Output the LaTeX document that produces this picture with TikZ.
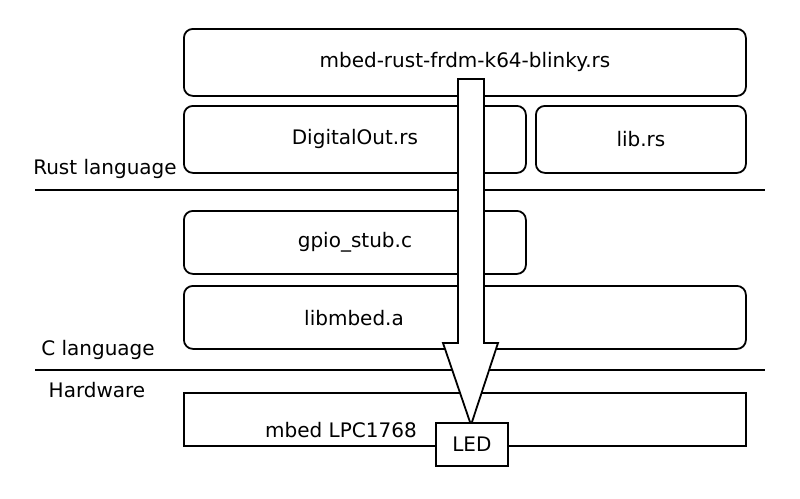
\documentclass[tikz,border=0pt]{standalone}
\usepackage{fontspec}
\setmainfont{DejaVu Sans}
\begin{document}
\begin{tikzpicture}[x=1pt,y=-1pt,
  txt/.style={font=\fontsize{20}{23}\selectfont, inner sep=0pt},
  box/.style={draw, line width=1.8pt, rounded corners=9pt, inner sep=0pt, anchor=north west, fill=white, txt},
  hwbox/.style={draw, line width=1.8pt, inner sep=0pt, anchor=north west, fill=white},
  sep/.style={line width=1.8pt},
  flow/.style={draw, line width=1.8pt, fill=white, line join=miter}]
\useasboundingbox (0,0) rectangle (800,498);
% Rust layer
\node[box, minimum width=562pt, minimum height=67pt] (main) at (183,28) {mbed-rust-frdm-k64-blinky.rs};
\node[box, minimum width=342pt, minimum height=67pt] (dout) at (183,105) {DigitalOut.rs};
\node[box, minimum width=210pt, minimum height=67pt] (lib) at (535,105) {lib.rs};
\node[txt] (rustl) at (105,169) {Rust language};
\coordinate (s1l) at (35,190);
\coordinate (s1r) at (765,190);
\draw[sep] (s1l) -- (s1r);
% C layer
\node[box, minimum width=342pt, minimum height=63pt] (gpio) at (183,210) {gpio\_stub.c};
\node[box, minimum width=562pt, minimum height=63pt] (libm) at (183,285) {};
\node[txt] (libmt) at (354,318) {libmbed.a};
\node[txt] (cl) at (98,350) {C language};
\coordinate (s2l) at (35,370);
\coordinate (s2r) at (765,370);
\draw[sep] (s2l) -- (s2r);
% Hardware
\node[txt] (hwl) at (97,390) {Hardware};
\node[hwbox, minimum width=562pt, minimum height=53pt] (hw) at (183,392) {};
\node[txt] (hwt) at (341,430) {mbed LPC1768};
% flow arrow
\draw[flow] (458,79) -- (484,79) -- (484,343) -- (498,343) -- (471,425) -- (443,343) -- (458,343) -- cycle;
\node[draw, line width=1.8pt, fill=white, minimum width=72pt, minimum height=43pt, inner sep=0pt, anchor=north west, txt] (led) at (435,422) {LED};
\end{tikzpicture}
\end{document}
